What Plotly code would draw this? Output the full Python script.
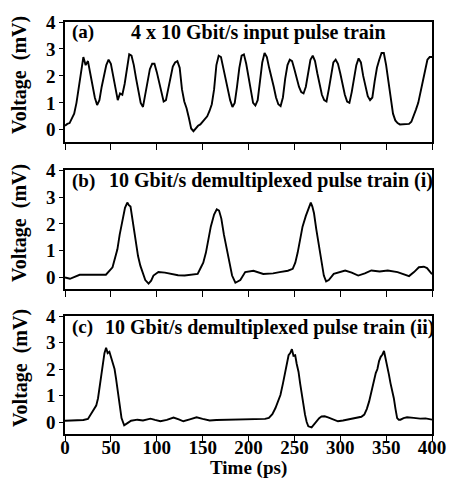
import plotly.graph_objects as go

# ---------------- data ----------------
time_a = [i * 2.5 for i in range(161)]
volt_a = [0.15, 0.22, 0.25, 0.45, 0.6, 1.0, 1.6, 2.2, 2.7, 2.4,
          2.55, 2.1, 1.6, 1.2, 0.92, 1.1, 1.6, 2.05, 2.4, 2.6,
          2.45, 2.0, 1.5, 1.1, 1.35, 1.3, 1.7, 2.3, 2.8, 2.75,
          2.4, 1.9, 1.4, 1.0, 0.85, 1.3, 1.85, 2.25, 2.45, 2.45,
          2.15, 1.75, 1.35, 1.05, 1.1, 1.5, 1.95, 2.35, 2.5, 2.55,
          2.3, 1.5, 1.05, 0.8, 0.45, 0.05, -0.05, 0.05, 0.15, 0.2,
          0.3, 0.4, 0.5, 0.7, 0.95, 1.5, 2.4, 2.75, 2.7, 2.3,
          1.9, 1.5, 1.1, 0.85, 1.0, 1.6, 2.3, 2.75, 2.8, 2.45,
          2.0, 1.5, 1.0, 0.9, 1.1, 1.8, 2.5, 2.85, 2.7, 2.3,
          2.0, 1.6, 1.2, 0.95, 0.88, 1.2, 1.9, 2.4, 2.6, 2.55,
          2.25, 1.9, 1.6, 1.4, 1.35, 1.6, 2.1, 2.6, 2.75, 2.55,
          2.1, 1.7, 1.3, 1.1, 1.05, 1.5, 2.1, 2.5, 2.6, 2.45,
          2.1, 1.7, 1.3, 1.05, 1.0, 1.4, 1.9, 2.4, 2.65, 2.5,
          2.0, 1.6, 1.25, 1.1, 1.2, 1.8, 2.3, 2.6, 2.85, 2.85,
          2.4, 1.8, 1.2, 0.6, 0.35, 0.25, 0.2, 0.2, 0.2, 0.2,
          0.22, 0.3, 0.5, 0.75, 1.0, 1.35, 1.8, 2.2, 2.6, 2.7,
          2.7]

time_b = [0, 5.4, 16, 30, 44.6, 51.8, 57.1, 59.6, 62.5, 65.4, 67.9, 69.6, 71.4,
          73.9, 76.8, 79.6, 82.1, 87.5, 91.1, 93.9, 96.4, 101.8, 108.9, 116,
          123.2, 130.4, 137.5, 144.6, 148.2, 150.7, 153.6, 156, 158.9, 162.5,
          165.4, 167.9, 170.4, 173.2, 176.8, 179.6, 182.1, 185.7, 191.1, 196.4,
          205.4, 216.1, 226.8, 233.9, 242.9, 248.2, 251, 253.6, 256, 258.9,
          262.5, 265.4, 267.9, 269.6, 271.4, 273.9, 276.8, 279.6, 282.1, 284.6,
          287.5, 292.9, 300, 305.4, 312.5, 319.6, 326.8, 333.9, 342.9, 351.8,
          362.5, 369.6, 375, 380.4, 385.7, 391.1, 394.6, 400]
volt_b = [0.0, -0.05, 0.1, 0.1, 0.1, 0.38, 1.05, 1.6, 2.15, 2.6, 2.8, 2.7, 2.65,
          2.1, 1.4, 0.8, 0.44, -0.1, -0.23, -0.12, 0.07, 0.2, 0.18, 0.13,
          0.08, 0.07, 0.1, 0.13, 0.38, 0.55, 0.93, 1.4, 1.9, 2.35,
          2.55, 2.5, 2.2, 1.6, 0.93, 0.4, 0.07, -0.2, -0.1, 0.2,
          0.25, 0.13, 0.15, 0.2, 0.25, 0.32, 0.55, 0.93, 1.4, 1.9,
          2.3, 2.6, 2.8, 2.65, 2.4, 1.8, 1.17, 0.55, 0.07, -0.15,
          -0.1, 0.13, 0.22, 0.26, 0.18, 0.07, 0.15, 0.26, 0.22, 0.26,
          0.2, 0.12, 0.05, 0.2, 0.38, 0.4, 0.35, 0.12]

time_c = [0, 10, 20, 25, 28.7, 31, 34, 36, 37.6, 39.5, 41.2, 43, 44.8, 46.5,
          48.4, 50, 52, 54, 55.6, 57.5, 59.1, 61.6, 64.5, 66.5, 68.1, 72, 78.9,
          85, 93.2, 98, 104, 111, 118.3, 124, 129, 136, 143.4, 150, 157.7, 165,
          179.2, 195, 211.5, 218, 222.2, 226, 229.4, 232, 234.8, 237.5, 240.1,
          242, 243.7, 245.5, 247.3, 249, 250.9, 252.5, 254.5, 256.3, 258.1, 260,
          261.6, 263.4, 265.2, 268.8, 271.5, 274.2, 277, 279.6, 283, 286.7, 292,
          297.5, 303, 308.2, 314, 319, 323, 326.2, 329, 331.5, 334, 336.9, 338.7,
          340.5, 342.3, 344.1, 346, 347.7, 349.5, 351.3, 353, 354.8, 356.6, 358.4,
          360.2, 362, 363.8, 365.6, 369, 372.8, 380, 387.1, 393, 400]
volt_c = [0.05, 0.06, 0.08, 0.12, 0.34, 0.45, 0.62, 0.9, 1.27, 1.8, 2.27, 2.6, 2.8, 2.6,
          2.65, 2.45, 2.27, 2.0, 1.65, 1.2, 0.78, 0.15, -0.12, -0.06, -0.04, 0.05, 0.09,
          0.06, 0.13, 0.08, 0.03, 0.08, 0.17, 0.1, 0.03, 0.1, 0.18, 0.12, 0.06, 0.08,
          0.09, 0.09, 0.09, 0.12, 0.16, 0.3, 0.53, 0.75, 1.02, 1.45, 1.9,
          2.3, 2.52, 2.6, 2.75, 2.5, 2.52, 2.2, 1.9, 1.45, 1.02, 0.6,
          0.28, 0.0, -0.16, -0.2, -0.08, 0.03, 0.15, 0.21, 0.22, 0.18, 0.1,
          0.03, 0.06, 0.09, 0.13, 0.15, 0.2, 0.28, 0.5, 0.78, 1.2, 1.65, 1.85,
          2.0, 2.3, 2.46, 2.55, 2.68, 2.4, 2.15, 1.8, 1.46, 1.2, 0.9,
          0.5, 0.15, 0.09, 0.09, 0.15, 0.18, 0.16, 0.13, 0.14, 0.09]

x_ticks = [0, 50, 100, 150, 200, 250, 300, 350, 400]
y_ticks = [0, 1, 2, 3, 4]
panel_tags = ["(a)", "(b)", "(c)"]
panel_titles = ["4 x 10 Gbit/s input pulse train",
                "10 Gbit/s demultiplexed pulse train (i)",
                "10 Gbit/s demultiplexed pulse train (ii)"]
y_label = "Voltage  (mV)"
x_label = "Time (ps)"

# ---------------- figure ----------------
FONT = "Liberation Serif, Times New Roman, serif"
H_PLOT = 419.0
domains = [[297 / H_PLOT, 1.0], [147 / H_PLOT, 268 / H_PLOT], [0.0, 120 / H_PLOT]]
series = [(time_a, volt_a), (time_b, volt_b), (time_c, volt_c)]

fig = go.Figure()
layout = dict(
    width=458, height=483,
    margin=dict(l=65, r=21, t=15, b=49),
    paper_bgcolor="white", plot_bgcolor="white",
    showlegend=False,
    font=dict(family=FONT, size=19, color="black"),
)

annotations = []
for i, ((tx, vy), dom) in enumerate(zip(series, domains)):
    n = i + 1
    xa = "x" if n == 1 else f"x{n}"
    ya = "y" if n == 1 else f"y{n}"
    fig.add_trace(go.Scatter(x=tx, y=vy, mode="lines", xaxis=xa, yaxis=ya,
                             line=dict(color="black", width=1.9)))
    xkey = "xaxis" if n == 1 else f"xaxis{n}"
    ykey = "yaxis" if n == 1 else f"yaxis{n}"
    layout[xkey] = dict(
        domain=[0, 1], anchor=ya, range=[0, 400],
        tickvals=x_ticks, showticklabels=(n == 3),
        ticks="outside", ticklen=6, tickwidth=1.3, tickcolor="black",
        ticklabelstandoff=-11,
        showline=True, linecolor="black", linewidth=1.5, mirror=True,
        showgrid=False, zeroline=False,
        tickfont=dict(family=FONT, size=19, color="black", weight="bold"),
    )
    layout[ykey] = dict(
        domain=dom, anchor=xa, range=[-0.45, 4.0],
        tickvals=y_ticks, ticks="outside", ticklen=4, tickwidth=1.3,
        tickcolor="black", showline=True, linecolor="black", linewidth=1.5,
        mirror=True, showgrid=False, zeroline=False,
        tickfont=dict(family=FONT, size=19, color="black", weight="bold"),
    )
    # y label
    annotations.append(dict(
        text=y_label, textangle=-90, showarrow=False,
        xref="paper", x=0, xanchor="center", xshift=-45,
        yref=f"{ya} domain", y=0.5, yanchor="middle", yshift=7,
        font=dict(family=FONT, size=20, color="black", weight="bold"),
    ))
    # panel tag and title
    ty = 3.62 if n < 3 else 3.58
    annotations.append(dict(
        text=panel_tags[i], showarrow=False, xref=xa, yref=ya,
        x=5, y=ty, xanchor="left", yanchor="middle",
        font=dict(family=FONT, size=19, color="black", weight="bold"),
    ))
    tx0 = [70, 46, 41][i]
    annotations.append(dict(
        text=panel_titles[i], showarrow=False, xref=xa, yref=ya,
        x=tx0, y=ty, xanchor="left", yanchor="middle",
        font=dict(family=FONT, size=20, color="black", weight="bold"),
    ))

annotations.append(dict(
    text=x_label, showarrow=False, xref="paper", yref="paper",
    x=0.5, y=0, xanchor="center", yanchor="middle", yshift=-34,
    font=dict(family=FONT, size=19, color="black", weight="bold"),
))
layout["annotations"] = annotations
fig.update_layout(**layout)
fig.write_html("out.html",
               config={"displayModeBar": False},
               post_script="document.body.style.margin='0';document.body.style.overflow='hidden';")
